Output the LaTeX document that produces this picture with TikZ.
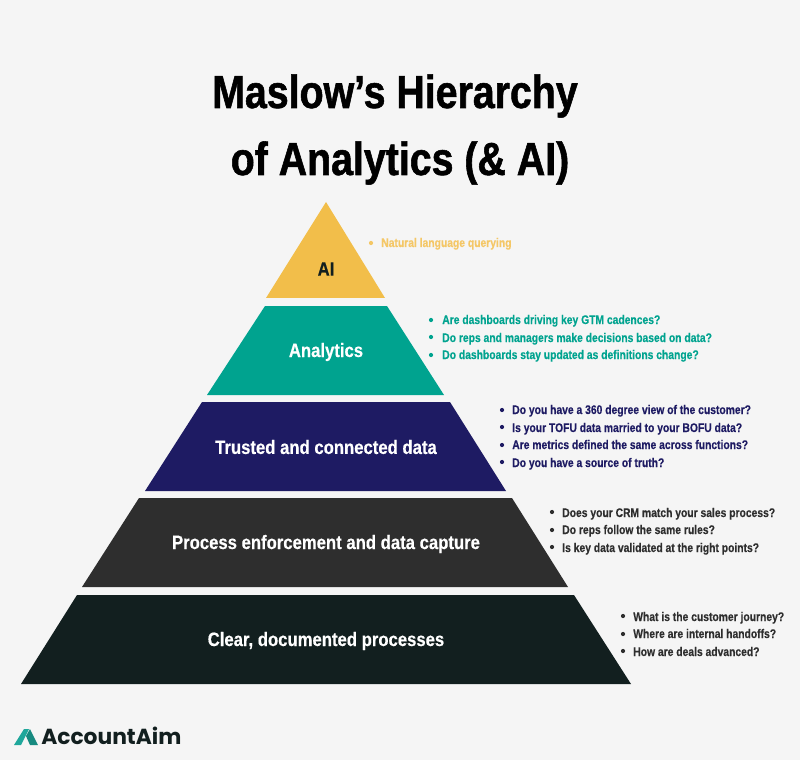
\documentclass[tikz,border=0pt]{standalone}
\usepackage{fontspec}
\setmainfont[FakeStretch=0.86]{Liberation Sans}
\newfontfamily\titlefont[FakeStretch=0.847,BoldFeatures={FakeBold=1.2}]{Liberation Sans}
\newfontfamily\layerfont[FakeStretch=0.86,BoldFeatures={FakeBold=0.4}]{Liberation Sans}
\newfontfamily\questionfont[FakeStretch=0.825,BoldFeatures={FakeBold=0.3}]{Liberation Sans}
\newfontfamily\logofont{Poppins}
\definecolor{pagebg}{HTML}{F5F5F5}
\definecolor{aiyellow}{HTML}{F2BE4A}
\definecolor{aitext}{HTML}{F4C766}
\definecolor{analyticsteal}{HTML}{00A38F}
\definecolor{trustednavy}{HTML}{1E1B63}
\definecolor{processgrey}{HTML}{2E2E2E}
\definecolor{cleardark}{HTML}{121F1F}
\definecolor{logoteal}{HTML}{1FA79B}
\definecolor{logotealdark}{HTML}{178A80}
\begin{document}
\begin{tikzpicture}[
        x=0.025cm, y=-0.025cm,
        title/.style={font=\titlefont\fontsize{33}{40}\selectfont\bfseries, anchor=base, text=black},
        layer/.style={font=\layerfont\fontsize{13.8}{16}\selectfont\bfseries, text=white},
        question/.style={font=\questionfont\fontsize{8.9}{11}\selectfont\bfseries, anchor=base west, inner sep=0pt},
        dot/.style={circle, inner sep=0pt, minimum size=3pt}
    ]
        \useasboundingbox[fill=pagebg] (0,0) rectangle (800,760);

        % Title
        \node[title] (line1) at (395,108) {Maslow’s Hierarchy};
        \node[title] (line2) at (400,175) {of Analytics (\& AI)};

        % Pyramid
        \fill[aiyellow] (326,202) -- (385,298) -- (266,298) -- cycle;
        \fill[analyticsteal] (265,306) -- (387,306) -- (444,395) -- (207,395) -- cycle;
        \fill[trustednavy] (202,402) -- (450,402) -- (506,491) -- (145,491) -- cycle;
        \fill[processgrey] (139,498) -- (512,498) -- (568,587) -- (82,587) -- cycle;
        \fill[cleardark] (77,595) -- (574,595) -- (631,684) -- (21,684) -- cycle;

        \node[layer, text=cleardark] (ai) at (326,269) {AI};
        \node[layer] (analytics) at (326,352) {Analytics};
        \node[layer] (trusted) at (326,447) {Trusted and connected data};
        \node[layer] (process) at (326,544) {Process enforcement and data capture};
        \node[layer] (clear) at (326,641) {Clear, documented processes};

        % AI questions
        \node[dot, fill=aitext] (b1) at (371,243) {};
        \node[question, text=aitext] (q1) at (381,247) {Natural language querying};

        % Analytics questions
        \node[dot, fill=analyticsteal] (b2) at (431,320) {};
        \node[dot, fill=analyticsteal] (b3) at (431,337) {};
        \node[dot, fill=analyticsteal] (b4) at (431,355) {};
        \node[question, text=analyticsteal] (q2) at (442,324) {Are dashboards driving key GTM cadences?};
        \node[question, text=analyticsteal] (q3) at (442,342) {Do reps and managers make decisions based on data?};
        \node[question, text=analyticsteal] (q4) at (442,359) {Do dashboards stay updated as definitions change?};

        % Trusted questions
        \node[dot, fill=trustednavy] (b5) at (502,410) {};
        \node[dot, fill=trustednavy] (b6) at (502,427) {};
        \node[dot, fill=trustednavy] (b7) at (502,445) {};
        \node[dot, fill=trustednavy] (b8) at (502,462) {};
        \node[question, text=trustednavy] (q5) at (512,414) {Do you have a 360 degree view of the customer?};
        \node[question, text=trustednavy] (q6) at (512,432) {Is your TOFU data married to your BOFU data?};
        \node[question, text=trustednavy] (q7) at (512,449) {Are metrics defined the same across functions?};
        \node[question, text=trustednavy] (q8) at (512,467) {Do you have a source of truth?};

        % Process questions
        \node[dot, fill=processgrey] (b9) at (552,512) {};
        \node[dot, fill=processgrey] (b10) at (552,530) {};
        \node[dot, fill=processgrey] (b11) at (552,547) {};
        \node[question, text=processgrey] (q9) at (562,517) {Does your CRM match your sales process?};
        \node[question, text=processgrey] (q10) at (562,534) {Do reps follow the same rules?};
        \node[question, text=processgrey] (q11) at (562,552) {Is key data validated at the right points?};

        % Clear questions
        \node[dot, fill=processgrey] (b12) at (623,616) {};
        \node[dot, fill=processgrey] (b13) at (623,634) {};
        \node[dot, fill=processgrey] (b14) at (623,651) {};
        \node[question, text=processgrey] (q12) at (633,621) {What is the customer journey?};
        \node[question, text=processgrey] (q13) at (633,638) {Where are internal handoffs?};
        \node[question, text=processgrey] (q14) at (633,656) {How are deals advanced?};

        % Logo
        \fill[logoteal] (14,745) -- (24,729) -- (29,729) -- (21,745) -- cycle;
        \fill[logotealdark] (26,736) -- (30,729) -- (38,745) -- (30,745) -- cycle;
        \node[anchor=base west, inner sep=0pt, text=cleardark, font=\logofont\fontsize{15.5}{18}\selectfont\bfseries] (logo) at (41,744) {AccountAim};
    \end{tikzpicture}
\end{document}
